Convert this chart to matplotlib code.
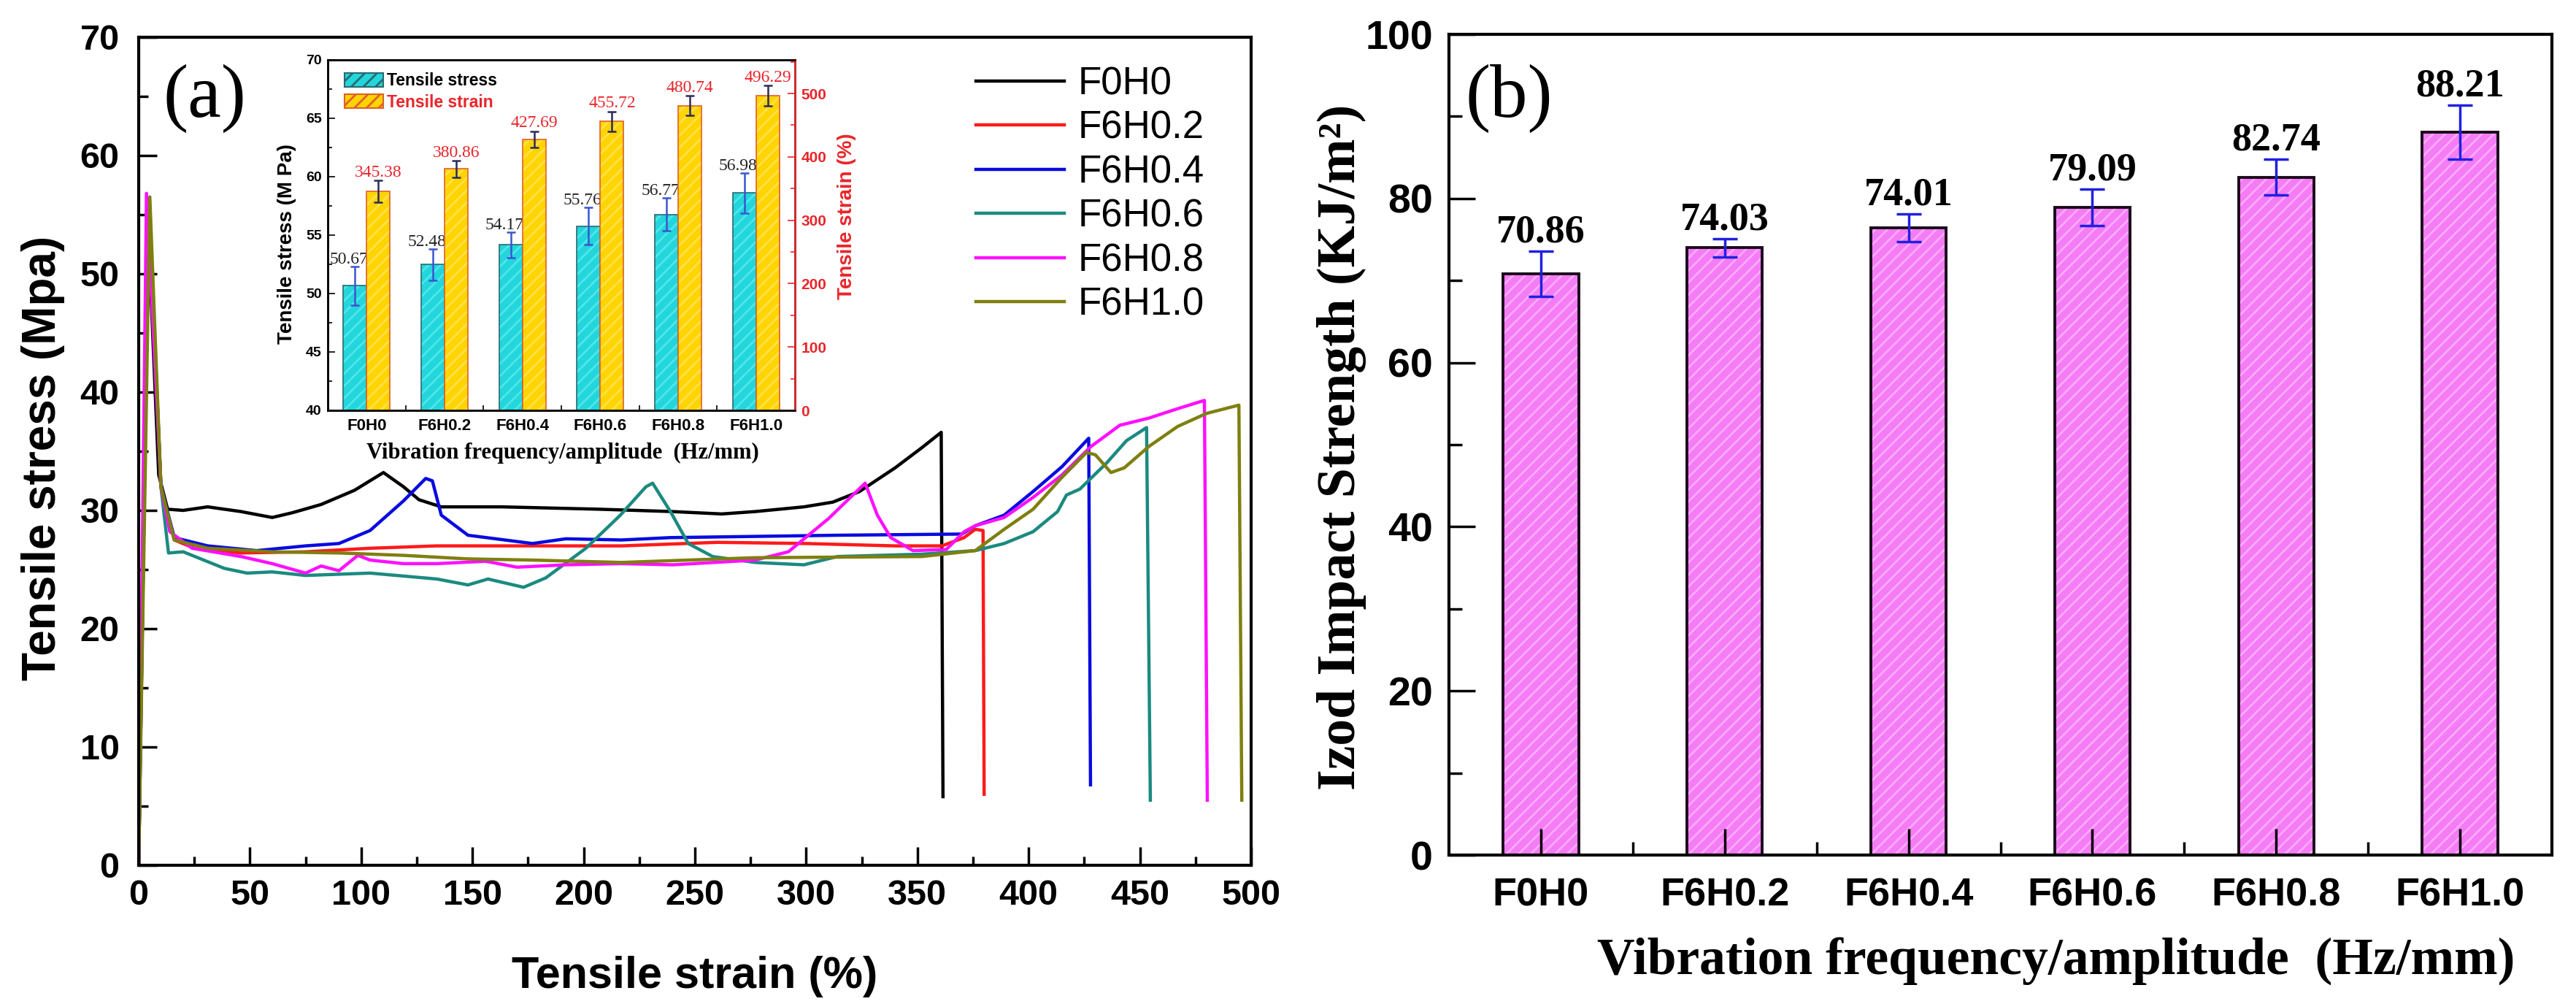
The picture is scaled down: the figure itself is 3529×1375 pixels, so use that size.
import matplotlib
matplotlib.use("Agg")
import matplotlib.pyplot as plt
from matplotlib.ticker import MultipleLocator, FixedLocator
from matplotlib.patches import Patch

# ---- data ----
categories = ["F0H0", "F6H0.2", "F6H0.4", "F6H0.6", "F6H0.8", "F6H1.0"]

# (a) stress-strain curves
f0h0_strain = [0, 4, 9, 13, 20, 31, 46, 60, 69, 82, 97, 110, 119, 126, 136, 163, 207, 240,
               262, 277, 299, 312, 324, 340, 352, 360.7, 361.5]
f0h0_stress = [0, 55.0, 33.0, 30.1, 30.0, 30.3, 29.9, 29.4, 29.8, 30.5, 31.7, 33.2, 32.0, 30.9,
               30.3, 30.3, 30.1, 29.9, 29.7, 29.9, 30.3, 30.7, 31.6, 33.6, 35.3, 36.6, 5.8]

f6h02_strain = [0, 4.5, 10, 16, 25, 46, 75, 104, 134, 177, 217, 260, 300, 340, 361, 371, 376,
                379.5, 380]
f6h02_stress = [0, 56.0, 32.0, 27.5, 26.8, 26.4, 26.5, 26.8, 27.0, 27.0, 27.0, 27.3, 27.2, 27.0,
                27.0, 27.7, 28.4, 28.3, 6.0]

f6h04_strain = [0, 4.5, 10, 16, 31, 53, 75, 90, 104, 119, 129, 132, 136, 148, 177, 192, 217, 239,
                314, 370, 376, 389, 402, 415, 427, 427.8]
f6h04_stress = [0, 56.0, 32.0, 27.7, 27.0, 26.6, 27.0, 27.2, 28.3, 30.8, 32.7, 32.5, 29.6, 27.9,
                27.2, 27.6, 27.5, 27.7, 27.9, 28.0, 28.7, 29.6, 31.6, 33.7, 36.1, 6.8]

f6h06_strain = [0, 4.5, 10, 13.4, 20, 38.5, 48.7, 60, 75, 104, 134, 148, 157, 173, 183, 201, 216.5,
                228, 231, 239, 247, 258, 277, 299, 314, 352, 376, 389, 402, 413, 417, 423, 435,
                444, 453, 454.7]
f6h06_stress = [0, 56.0, 32.0, 26.4, 26.5, 25.1, 24.7, 24.8, 24.5, 24.7, 24.2, 23.7, 24.2, 23.5,
                24.3, 26.8, 29.6, 32.0, 32.3, 29.9, 27.2, 26.1, 25.6, 25.4, 26.1, 26.3, 26.6, 27.2,
                28.2, 29.9, 31.3, 31.8, 34.0, 35.9, 37.0, 5.5]

f6h08_strain = [0, 3.5, 10, 14, 24, 46, 60, 75, 82, 90, 98.5, 104, 119, 134, 156, 170, 192, 217,
                240, 277, 292, 310, 326.5, 332, 338, 348, 363, 371, 376, 389, 402, 415, 428, 441,
                454, 467, 479, 480.3]
f6h08_stress = [0, 56.8, 32.0, 28.2, 26.8, 26.1, 25.5, 24.7, 25.3, 24.9, 26.2, 25.8, 25.5, 25.5,
                25.7, 25.2, 25.4, 25.5, 25.4, 25.8, 26.5, 29.3, 32.3, 29.6, 27.7, 26.6, 26.7, 28.2,
                28.7, 29.4, 31.1, 33.0, 35.4, 37.2, 37.8, 38.6, 39.3, 5.5]

f6h10_strain = [0, 5, 10, 16, 31, 60, 90, 119, 148, 177, 217, 277, 352, 376, 389, 402, 415, 426,
                430, 437, 443, 454, 467, 480, 494.5, 495.8]
f6h10_stress = [0, 56.5, 32.0, 27.5, 26.8, 26.5, 26.4, 26.2, 25.9, 25.8, 25.6, 26.0, 26.1, 26.6,
                28.4, 30.1, 32.8, 34.9, 34.7, 33.2, 33.6, 35.4, 37.1, 38.2, 38.9, 5.5]

# (a) inset bars
inset_stress = [50.67, 52.48, 54.17, 55.76, 56.77, 58.6]
inset_stress_err = [1.65, 1.35, 1.1, 1.6, 1.4, 1.7]
inset_stress_labels = ["50.67", "52.48", "54.17", "55.76", "56.77", "56.98"]
inset_strain = [345.38, 380.86, 427.69, 455.72, 480.74, 496.29]
inset_strain_err = [17, 13, 12.5, 16, 15.5, 16]
inset_strain_labels = ["345.38", "380.86", "427.69", "455.72", "480.74", "496.29"]

# (b) impact strength
impact = [70.8, 74.0, 76.4, 78.9, 82.6, 88.1]
impact_err = [2.75, 1.1, 1.7, 2.25, 2.2, 3.3]
impact_labels = ["70.86", "74.03", "74.01", "79.09", "82.74", "88.21"]

# ---- layout helpers (reference pixels, top-left origin) ----
W, H = 3530, 1375


def rect(x0, y0, x1, y1):
    return [x0 / W, 1 - y1 / H, (x1 - x0) / W, (y1 - y0) / H]


def px(x, y):
    return x / W, 1 - y / H


plt.rcParams["font.family"] = ["Liberation Sans", "DejaVu Sans"]
plt.rcParams["font.weight"] = "bold"
plt.rcParams["axes.labelweight"] = "bold"
plt.rcParams["hatch.linewidth"] = 2.0
SERIF = ["Liberation Serif", "DejaVu Serif"]
RED = "#e8262b"

fig = plt.figure(figsize=(W / 100, H / 100), dpi=100)

# ================= panel (a) =================
ax = fig.add_axes(rect(190, 51, 1714, 1185))
curves = [
    ("F0H0", "#000000", f0h0_strain, f0h0_stress),
    ("F6H0.2", "#ff1a1a", f6h02_strain, f6h02_stress),
    ("F6H0.4", "#0a0ae0", f6h04_strain, f6h04_stress),
    ("F6H0.6", "#1b8a80", f6h06_strain, f6h06_stress),
    ("F6H0.8", "#ff10ff", f6h08_strain, f6h08_stress),
    ("F6H1.0", "#7f7f10", f6h10_strain, f6h10_stress),
]
for name, color, xs_, ys_ in curves:
    ax.plot(xs_, ys_, color=color, lw=3.2, label=name)

ax.set_xlim(0, 500)
ax.set_ylim(0, 70)
ax.xaxis.set_major_locator(MultipleLocator(50))
ax.xaxis.set_minor_locator(MultipleLocator(25))
ax.yaxis.set_major_locator(MultipleLocator(10))
ax.yaxis.set_minor_locator(MultipleLocator(5))
ax.tick_params(which="both", direction="in", width=2.5, labelsize=35)
ax.tick_params(which="major", length=18)
ax.tick_params(which="minor", length=9)
ax.tick_params(axis="x", pad=14)
ax.tick_params(axis="y", pad=19)
for sp in ax.spines.values():
    sp.set_linewidth(3)

fig.text(*px(59, 627), "Tensile stress (Mpa)", rotation=90, ha="center", va="center", fontsize=46)
fig.text(*px(952, 1338), "Tensile strain (%)", ha="center", va="center", fontsize=44)
fig.text(*px(224, 88), "(a)", ha="left", va="top", fontsize=74, family=SERIF, weight="normal")

ax.legend(loc="upper left", bbox_to_anchor=px(1337, 90), bbox_transform=fig.transFigure,
          frameon=False, prop={"size": 38, "weight": "normal"}, handlelength=2.3,
          handletextpad=0.35, labelspacing=0.2, borderpad=0, borderaxespad=0)

# ---- inset ----
ins = fig.add_axes(rect(449, 82, 1089, 562))
ins2 = ins.twinx()
xs = list(range(len(categories)))
bw = 0.3
x_c = [x - bw / 2 for x in xs]
x_y = [x + bw / 2 for x in xs]

ins.bar(x_c, inset_stress, bw, color="#22d6dc", edgecolor="#4fe6ea", hatch="//", lw=0)
ins.bar(x_c, inset_stress, bw, fill=False, edgecolor="#2a6a70", lw=1.2)
ins.errorbar(x_c, inset_stress, yerr=inset_stress_err, fmt="none", ecolor="#3a55d0",
             elinewidth=1.8, capsize=4, capthick=1.8)
ins2.bar(x_y, inset_strain, bw, color="#ffd400", edgecolor="#ffe24a", hatch="//", lw=0)
ins2.bar(x_y, inset_strain, bw, fill=False, edgecolor="#e0602a", lw=1.2)
ins2.errorbar(x_y, inset_strain, yerr=inset_strain_err, fmt="none", ecolor="#2a2a5a",
              elinewidth=1.8, capsize=4, capthick=1.8)

for x, v, e, s in zip(x_c, inset_stress, inset_stress_err, inset_stress_labels):
    ins.annotate(s, (x, v + e), xytext=(-6, 3), textcoords="offset points", ha="center",
                 va="baseline", fontsize=17, family=SERIF, weight="normal", color="#222222")
for x, v, e, s in zip(x_y, inset_strain, inset_strain_err, inset_strain_labels):
    ins2.annotate(s, (x, v + e), xytext=(0, 4), textcoords="offset points", ha="center",
                  va="baseline", fontsize=17, family=SERIF, weight="normal", color=RED)

ins.set_xlim(-0.5, len(categories) - 0.5)
ins.set_ylim(40, 70)
ins2.set_ylim(0, 553)
ins.set_xticks(xs)
ins.set_xticklabels(categories)
ins.xaxis.set_minor_locator(FixedLocator([x + 0.5 for x in xs[:-1]]))
ins.yaxis.set_major_locator(MultipleLocator(5))
ins.yaxis.set_minor_locator(MultipleLocator(2.5))
ins2.yaxis.set_major_locator(MultipleLocator(100))
ins2.yaxis.set_minor_locator(MultipleLocator(50))
ins.tick_params(axis="x", which="major", length=0, labelsize=16, pad=8)
ins.tick_params(axis="x", which="minor", direction="in", length=5, width=1.2)
ins.tick_params(axis="y", which="both", direction="in", width=1.2, labelsize=14, pad=6)
ins.tick_params(axis="y", which="major", length=7)
ins.tick_params(axis="y", which="minor", length=4)
ins2.tick_params(axis="y", which="both", direction="in", width=1.2, labelsize=15, pad=6,
                 colors=RED)
ins2.tick_params(axis="y", which="major", length=7)
ins2.tick_params(axis="y", which="minor", length=4)
for sp in ins.spines.values():
    sp.set_linewidth(1.8)
for sp in ins2.spines.values():
    sp.set_linewidth(1.8)
ins2.spines["right"].set_color(RED)

fig.text(*px(393, 334), "Tensile stress (M Pa)", rotation=90, ha="center", va="center", fontsize=20)
fig.text(*px(1160, 296), "Tensile strain (%)", rotation=90, ha="center", va="center", fontsize=20,
         color=RED)
fig.text(*px(771, 620), "Vibration frequency/amplitude  (Hz/mm)", ha="center", va="center",
         fontsize=22, family=SERIF)

leg_handles = [Patch(facecolor="#22d6dc", edgecolor="#2a6a70", hatch="//", lw=1.5),
               Patch(facecolor="#ffd400", edgecolor="#e0602a", hatch="//", lw=1.5)]
leg = ins2.legend(leg_handles, ["Tensile stress", "Tensile strain"], loc="upper left",
                  bbox_to_anchor=px(472, 99), bbox_transform=fig.transFigure, frameon=False,
                  prop={"size": 16.5, "weight": "bold"}, handlelength=2.3, handleheight=0.9,
                  handletextpad=0.25, labelspacing=0.3, borderpad=0, borderaxespad=0)
leg.get_texts()[1].set_color(RED)

# ================= panel (b) =================
bx = fig.add_axes(rect(1985, 47, 3496, 1171))
bwb = 0.41
bx.bar(xs, impact, bwb, color="#f47cf4", edgecolor="#ffaaff", hatch="//", lw=0)
bx.bar(xs, impact, bwb, fill=False, edgecolor="#1a0a1a", lw=2.8)
bx.errorbar(xs, impact, yerr=impact_err, fmt="none", ecolor="#2020e0", elinewidth=2.5,
            capsize=12, capthick=2.5)
for x, v, e, s in zip(xs, impact, impact_err, impact_labels):
    bx.annotate(s, (x, v + e), xytext=(0, 9), textcoords="offset points", ha="center",
                va="baseline", fontsize=39, family=SERIF, weight="bold")

bx.set_xlim(-0.5, len(categories) - 0.5)
bx.set_ylim(0, 100)
bx.set_xticks(xs)
bx.set_xticklabels(categories)
bx.xaxis.set_minor_locator(FixedLocator([x + 0.5 for x in xs[:-1]]))
bx.yaxis.set_major_locator(MultipleLocator(20))
bx.yaxis.set_minor_locator(MultipleLocator(10))
bx.tick_params(which="both", direction="in", width=2.5)
bx.tick_params(which="major", length=26)
bx.tick_params(which="minor", length=13)
bx.tick_params(axis="x", pad=22, labelsize=39)
bx.tick_params(axis="y", pad=16, labelsize=40)
for sp in bx.spines.values():
    sp.set_linewidth(3)

fig.text(*px(1838, 612), "Izod Impact Strength (KJ/m²)", rotation=90, ha="center", va="center",
         fontsize=53, family=SERIF)
fig.text(*px(2817, 1316), "Vibration frequency/amplitude  (Hz/mm)", ha="center", va="center",
         fontsize=51.5, family=SERIF)
fig.text(*px(2008, 88), "(b)", ha="left", va="top", fontsize=74, family=SERIF, weight="normal")

fig.savefig("out.png", dpi=100)
